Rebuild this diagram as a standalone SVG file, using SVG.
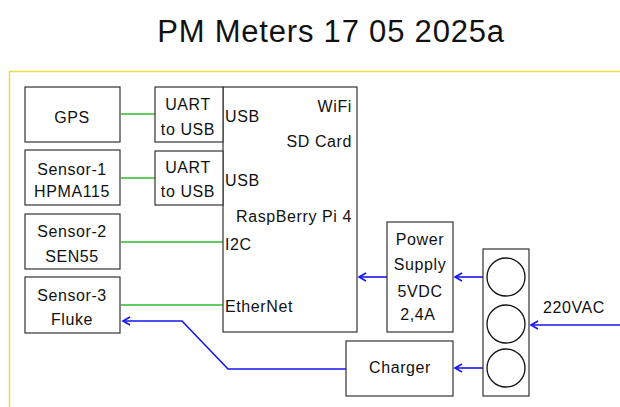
<svg xmlns="http://www.w3.org/2000/svg" width="620" height="407" viewBox="0 0 620 407">
<style>
text{font-family:"Liberation Sans",Arial,sans-serif;font-size:16px;fill:#111;letter-spacing:0.6px}
.box{fill:#fff;stroke:#333;stroke-width:1.2}
.c{text-anchor:middle}
.r{text-anchor:end}
.g{stroke:#2cbc2c;stroke-width:1.6;fill:none}
.b{stroke:#1515f0;stroke-width:1.6;fill:none}
.title{font-size:31px;letter-spacing:0.8px}
</style>
<defs>
<marker id="ah" viewBox="0 0 10 10" refX="9" refY="5" markerWidth="10" markerHeight="10" markerUnits="userSpaceOnUse" orient="auto" overflow="visible">
<path d="M2,1 L9,5 L2,9" fill="none" stroke="#1515f0" stroke-width="1.6"/>
</marker>
</defs>
<rect width="620" height="407" fill="#fff"/>
<text class="title c" x="331" y="42">PM Meters 17 05 2025a</text>
<path d="M9.5,407 V71.5 H620" fill="none" stroke="#e8e040" stroke-width="1.5"/>

<g id="connectors">
<line class="g" x1="121" y1="114" x2="155" y2="114"/>
<line class="g" x1="121" y1="178" x2="155" y2="178"/>
<line class="g" x1="121" y1="242" x2="223" y2="242"/>
<line class="g" x1="121" y1="305" x2="223" y2="305"/>
<line class="b" x1="387" y1="277" x2="359" y2="277" marker-end="url(#ah)"/>
<line class="b" x1="483" y1="277" x2="455" y2="277" marker-end="url(#ah)"/>
<line class="b" x1="483" y1="368" x2="455" y2="368" marker-end="url(#ah)"/>
<line class="b" x1="620" y1="325" x2="531" y2="325" marker-end="url(#ah)"/>
<polyline class="b" points="346,369 228,369 182,321 123,321" marker-end="url(#ah)"/>
</g>

<g id="gps"><rect class="box" x="25" y="87" width="95" height="55"/><text class="c" x="72" y="123">GPS</text></g>
<g id="sensor1"><rect class="box" x="25" y="150" width="95" height="55"/><text class="c" x="72" y="175">Sensor-1</text><text class="c" x="72" y="197">HPMA115</text></g>
<g id="sensor2"><rect class="box" x="25" y="214" width="95" height="55"/><text class="c" x="72" y="237">Sensor-2</text><text class="c" x="72" y="262">SEN55</text></g>
<g id="sensor3"><rect class="box" x="25" y="277" width="95" height="56"/><text class="c" x="72" y="301">Sensor-3</text><text class="c" x="72" y="325">Fluke</text></g>

<g id="rpi"><rect class="box" x="223" y="87" width="134" height="245"/>
<text x="225" y="122">USB</text><text x="225" y="186">USB</text>
<text class="r" x="352" y="112">WiFi</text><text class="r" x="352" y="147">SD Card</text>
<text class="r" x="352" y="222">RaspBerry Pi 4</text>
<text x="225" y="250">I2C</text><text x="225" y="312">EtherNet</text></g>

<g id="uart1"><rect class="box" x="155" y="87" width="68" height="55"/><text class="c" x="188" y="110">UART</text><text class="c" x="188" y="135">to USB</text></g>
<g id="uart2"><rect class="box" x="155" y="151" width="68" height="54"/><text class="c" x="188" y="173">UART</text><text class="c" x="188" y="197">to USB</text></g>

<g id="psu"><rect class="box" x="387" y="222" width="66" height="110"/>
<text class="c" x="420" y="245">Power</text><text class="c" x="420" y="270">Supply</text><text class="c" x="420" y="297">5VDC</text><text class="c" x="418" y="320">2,4A</text></g>

<g id="charger"><rect class="box" x="346" y="341" width="107" height="55"/><text class="c" x="400" y="373">Charger</text></g>

<g id="outlet"><rect class="box" x="483" y="249" width="46" height="147"/>
<circle cx="506" cy="277" r="19" fill="none" stroke="#111" stroke-width="1.3"/>
<circle cx="506" cy="324" r="19" fill="none" stroke="#111" stroke-width="1.3"/>
<circle cx="506" cy="368" r="19" fill="none" stroke="#111" stroke-width="1.3"/></g>

<g id="ac"><text x="543" y="313">220VAC</text></g>
</svg>
